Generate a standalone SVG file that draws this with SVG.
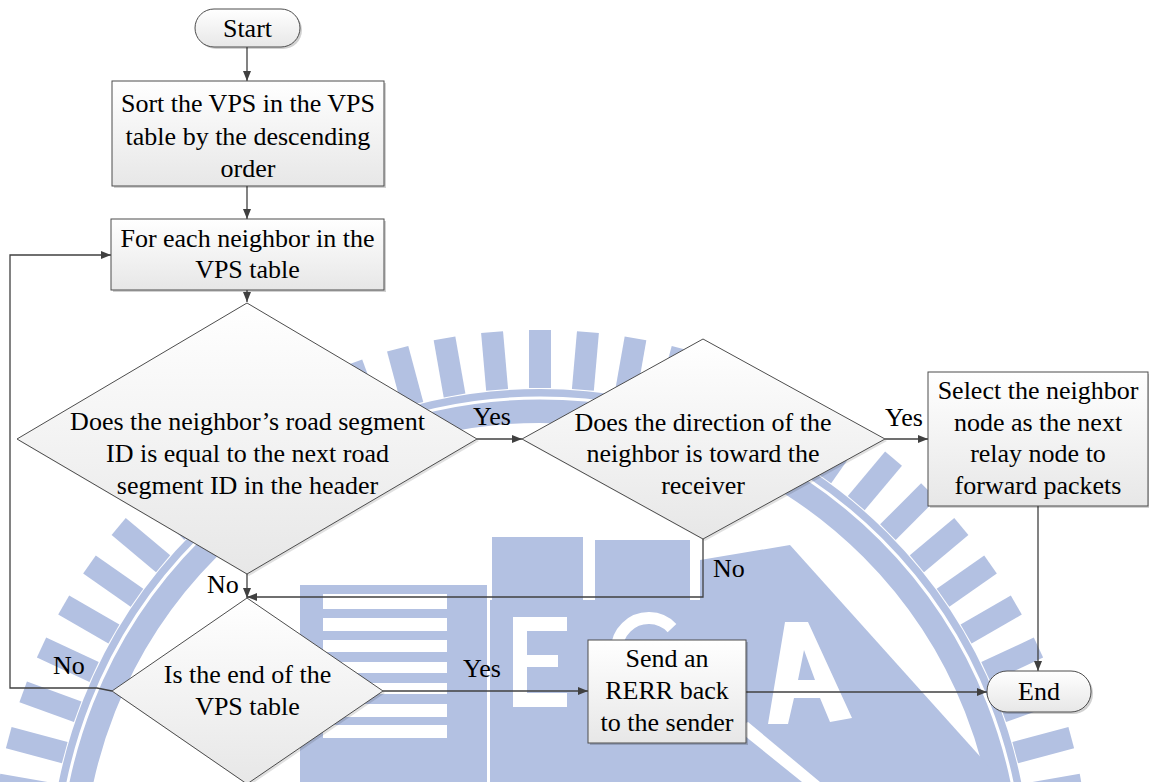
<svg xmlns="http://www.w3.org/2000/svg" width="1149" height="782" viewBox="0 0 1149 782">
  <defs>
    <linearGradient id="nodeFill" x1="0" y1="0" x2="0" y2="1">
      <stop offset="0" stop-color="#ffffff"/>
      <stop offset="1" stop-color="#e7e7e7"/>
    </linearGradient>
    <marker id="arrow" markerWidth="10" markerHeight="8" refX="10" refY="4" orient="auto" markerUnits="userSpaceOnUse">
      <path d="M0,0 L10,4 L0,8 z" fill="#404040" stroke="none"/>
    </marker>
  </defs>

  <rect width="1149" height="782" fill="#ffffff"/>

  <!-- background seal -->
  <g id="seal" fill="#b3c1e2">
    <g>
      <rect x="1032" y="869" width="58" height="22" transform="rotate(-170 540 880)"/>
      <rect x="1032" y="869" width="58" height="22" transform="rotate(-165 540 880)"/>
      <rect x="1032" y="869" width="58" height="22" transform="rotate(-160 540 880)"/>
      <rect x="1032" y="869" width="58" height="22" transform="rotate(-155 540 880)"/>
      <rect x="1032" y="869" width="58" height="22" transform="rotate(-150 540 880)"/>
      <rect x="1032" y="869" width="58" height="22" transform="rotate(-145 540 880)"/>
      <rect x="1032" y="869" width="58" height="22" transform="rotate(-140 540 880)"/>
      <rect x="1032" y="869" width="58" height="22" transform="rotate(-135 540 880)"/>
      <rect x="1032" y="869" width="58" height="22" transform="rotate(-130 540 880)"/>
      <rect x="1032" y="869" width="58" height="22" transform="rotate(-125 540 880)"/>
      <rect x="1032" y="869" width="58" height="22" transform="rotate(-120 540 880)"/>
      <rect x="1032" y="869" width="58" height="22" transform="rotate(-115 540 880)"/>
      <rect x="1032" y="869" width="58" height="22" transform="rotate(-110 540 880)"/>
      <rect x="1032" y="869" width="58" height="22" transform="rotate(-105 540 880)"/>
      <rect x="1032" y="869" width="58" height="22" transform="rotate(-100 540 880)"/>
      <rect x="1032" y="869" width="58" height="22" transform="rotate(-95 540 880)"/>
      <rect x="1032" y="869" width="58" height="22" transform="rotate(-90 540 880)"/>
      <rect x="1032" y="869" width="58" height="22" transform="rotate(-85 540 880)"/>
      <rect x="1032" y="869" width="58" height="22" transform="rotate(-80 540 880)"/>
      <rect x="1032" y="869" width="58" height="22" transform="rotate(-75 540 880)"/>
      <rect x="1032" y="869" width="58" height="22" transform="rotate(-70 540 880)"/>
      <rect x="1032" y="869" width="58" height="22" transform="rotate(-65 540 880)"/>
      <rect x="1032" y="869" width="58" height="22" transform="rotate(-60 540 880)"/>
      <rect x="1032" y="869" width="58" height="22" transform="rotate(-55 540 880)"/>
      <rect x="1032" y="869" width="58" height="22" transform="rotate(-50 540 880)"/>
      <rect x="1032" y="869" width="58" height="22" transform="rotate(-45 540 880)"/>
      <rect x="1032" y="869" width="58" height="22" transform="rotate(-40 540 880)"/>
      <rect x="1032" y="869" width="58" height="22" transform="rotate(-35 540 880)"/>
      <rect x="1032" y="869" width="58" height="22" transform="rotate(-30 540 880)"/>
      <rect x="1032" y="869" width="58" height="22" transform="rotate(-25 540 880)"/>
      <rect x="1032" y="869" width="58" height="22" transform="rotate(-20 540 880)"/>
      <rect x="1032" y="869" width="58" height="22" transform="rotate(-15 540 880)"/>
      <rect x="1032" y="869" width="58" height="22" transform="rotate(-10 540 880)"/>
    </g>
    <circle cx="540" cy="880" r="474" fill="none" stroke="#b3c1e2" stroke-width="34"/>
    <circle cx="540" cy="880" r="482" fill="none" stroke="#ffffff" stroke-width="3"/>
    <!-- striped block -->
    <rect x="300" y="585" width="187" height="197"/>
    <g fill="#ffffff">
      <rect x="323" y="594" width="124" height="15"/>
      <rect x="323" y="618" width="124" height="13"/>
      <rect x="323" y="640" width="124" height="12"/>
      <rect x="323" y="662" width="124" height="11"/>
      <rect x="323" y="683" width="124" height="11"/>
      <rect x="323" y="704" width="124" height="13"/>
      <rect x="323" y="725" width="124" height="13"/>
    </g>
    <!-- upper squares -->
    <rect x="492" y="537" width="91" height="63"/>
    <rect x="595" y="540" width="95" height="60"/>
    <!-- letter blocks -->
    <rect x="490" y="600" width="108" height="182"/>
    <path fill="#ffffff" d="M513,617 H567 V631 H527 V655 H558 V667 H527 V693 H567 V707 H513 Z"/>
    <rect x="598" y="600" width="102" height="182"/>
    <path fill="none" stroke="#ffffff" stroke-width="12" d="M672,628 A32,32 0 1 0 672,672"/>
    <!-- diagonal block with letter -->
    <path d="M700,560 L790,545 L1003,782 L700,782 Z"/>
    <path fill="#ffffff" d="M785,622 L808,622 L852,718 L830,722 L820,698 L794,698 L788,724 L768,724 Z M798,680 L815,680 L804,650 Z"/>
    <path fill="#ffffff" d="M735,728 L748,722 L820,782 L802,782 Z"/>
  </g>

  <!-- connectors -->
  <g id="connectors">
    <g fill="none" stroke="#404040" stroke-width="1.3" marker-end="url(#arrow)">
      <path d="M247,47 V81"/>
      <path d="M247,186 V219"/>
      <path d="M247,290 V302"/>
      <path d="M477,439 H522"/>
      <path d="M885,439 H928"/>
      <path d="M1038,506 V671"/>
      <path d="M703,539 V597 H247"/>
      <path d="M247,574 V598"/>
      <path d="M112,691 L97,688 H10 V255 H111"/>
      <path d="M383,691 H588"/>
      <path d="M746,692 H987"/>
    </g>
    <text x="473" y="425" font-family="Liberation Serif" font-size="26">Yes</text>
    <text x="885" y="426" font-family="Liberation Serif" font-size="26">Yes</text>
    <text x="207" y="593" font-family="Liberation Serif" font-size="26">No</text>
    <text x="713" y="577" font-family="Liberation Serif" font-size="26">No</text>
    <text x="53" y="674" font-family="Liberation Serif" font-size="26">No</text>
    <text x="463" y="677" font-family="Liberation Serif" font-size="26">Yes</text>
  </g>

  <!-- shapes: soft offset shadow first, then the gradient body -->
  <g id="start">
    <rect x="197" y="11" width="105" height="38" rx="19" fill="#000000" fill-opacity="0.18"/>
    <rect x="195" y="9" width="105" height="38" rx="19" fill="url(#nodeFill)" stroke="#4d4d4d"/>
    <text x="247.5" y="37" font-family="Liberation Serif" font-size="26" text-anchor="middle">Start</text>
  </g>

  <g id="sort-vps">
    <rect x="114" y="83" width="272" height="105" fill="#000000" fill-opacity="0.18"/>
    <rect x="112" y="81" width="272" height="105" fill="url(#nodeFill)" stroke="#4d4d4d"/>
    <text x="248" y="112" font-family="Liberation Serif" font-size="26" text-anchor="middle">Sort the VPS in the VPS</text>
    <text x="248" y="145" font-family="Liberation Serif" font-size="26" text-anchor="middle">table by the descending</text>
    <text x="248" y="177" font-family="Liberation Serif" font-size="26" text-anchor="middle">order</text>
  </g>

  <g id="for-each-neighbor">
    <rect x="113" y="221" width="273" height="71" fill="#000000" fill-opacity="0.18"/>
    <rect x="111" y="219" width="273" height="71" fill="url(#nodeFill)" stroke="#4d4d4d"/>
    <text x="247.5" y="247" font-family="Liberation Serif" font-size="26" text-anchor="middle">For each neighbor in the</text>
    <text x="247.5" y="278" font-family="Liberation Serif" font-size="26" text-anchor="middle">VPS table</text>
  </g>

  <g id="same-segment">
    <path d="M249,305 L479,441 L249,576 L19,441 Z" fill="#000000" fill-opacity="0.12"/>
    <path d="M247,303 L477,439 L247,574 L17,439 Z" fill="url(#nodeFill)" stroke="#4d4d4d"/>
    <text x="247.5" y="430" font-family="Liberation Serif" font-size="26" text-anchor="middle">Does the neighbor&#8217;s road segment</text>
    <text x="247.5" y="462" font-family="Liberation Serif" font-size="26" text-anchor="middle">ID is equal to the next road</text>
    <text x="247.5" y="494" font-family="Liberation Serif" font-size="26" text-anchor="middle">segment ID in the header</text>
  </g>

  <g id="toward-receiver">
    <path d="M705,341 L887,441 L705,541 L524,441 Z" fill="#000000" fill-opacity="0.12"/>
    <path d="M703,339 L885,439 L703,539 L522,439 Z" fill="url(#nodeFill)" stroke="#4d4d4d"/>
    <text x="703" y="431" font-family="Liberation Serif" font-size="26" text-anchor="middle">Does the direction of the</text>
    <text x="703" y="462" font-family="Liberation Serif" font-size="26" text-anchor="middle">neighbor is toward the</text>
    <text x="703" y="494" font-family="Liberation Serif" font-size="26" text-anchor="middle">receiver</text>
  </g>

  <g id="select-relay">
    <rect x="930" y="374" width="220" height="134" fill="#000000" fill-opacity="0.18"/>
    <rect x="928" y="372" width="220" height="134" fill="url(#nodeFill)" stroke="#4d4d4d"/>
    <text x="1038" y="399" font-family="Liberation Serif" font-size="26" text-anchor="middle">Select the neighbor</text>
    <text x="1038" y="431" font-family="Liberation Serif" font-size="26" text-anchor="middle">node as the next</text>
    <text x="1038" y="462" font-family="Liberation Serif" font-size="26" text-anchor="middle">relay node to</text>
    <text x="1038" y="494" font-family="Liberation Serif" font-size="26" text-anchor="middle">forward packets</text>
  </g>

  <g id="end-of-table">
    <path d="M249,600 L385,693 L249,786 L114,693 Z" fill="#000000" fill-opacity="0.12"/>
    <path d="M247,598 L383,691 L247,784 L112,691 Z" fill="url(#nodeFill)" stroke="#4d4d4d"/>
    <text x="247.5" y="683" font-family="Liberation Serif" font-size="26" text-anchor="middle">Is the end of the</text>
    <text x="247.5" y="715" font-family="Liberation Serif" font-size="26" text-anchor="middle">VPS table</text>
  </g>

  <g id="send-rerr">
    <rect x="590" y="642" width="158" height="103" fill="#000000" fill-opacity="0.18"/>
    <rect x="588" y="640" width="158" height="103" fill="url(#nodeFill)" stroke="#4d4d4d"/>
    <text x="667" y="667" font-family="Liberation Serif" font-size="26" text-anchor="middle">Send an</text>
    <text x="667" y="699" font-family="Liberation Serif" font-size="26" text-anchor="middle">RERR back</text>
    <text x="667" y="731" font-family="Liberation Serif" font-size="26" text-anchor="middle">to the sender</text>
  </g>

  <g id="end">
    <rect x="989" y="673" width="104" height="41" rx="20" fill="#000000" fill-opacity="0.18"/>
    <rect x="987" y="671" width="104" height="41" rx="20" fill="url(#nodeFill)" stroke="#4d4d4d"/>
    <text x="1039" y="700" font-family="Liberation Serif" font-size="26" text-anchor="middle">End</text>
  </g>
</svg>
